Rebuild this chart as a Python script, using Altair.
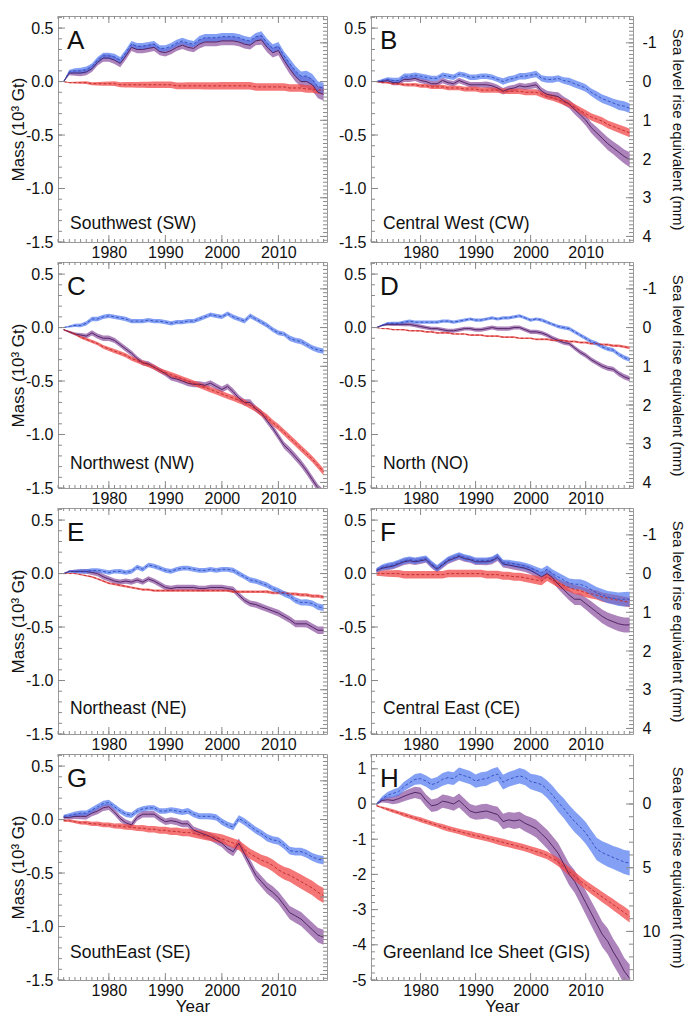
import altair as alt
import pandas as pd

FONT = "Liberation Sans"
YEARS = list(range(1972, 2019))

# ---- Southwest (A) ----
SW_SMB = [0.00,0.09,0.10,0.10,0.11,0.14,0.20,0.24,0.24,0.23,
          0.20,0.27,0.35,0.33,0.33,0.34,0.35,0.31,0.31,0.33,
          0.36,0.38,0.36,0.35,0.39,0.41,0.41,0.41,0.42,0.42,
          0.42,0.41,0.39,0.38,0.42,0.43,0.36,0.31,0.33,0.24,
          0.17,0.10,0.05,0.05,0.02,-0.05,-0.06]
SW_MB = [0.00,0.08,0.08,0.08,0.09,0.12,0.18,0.22,0.22,0.20,
         0.17,0.24,0.32,0.30,0.30,0.31,0.32,0.28,0.27,0.29,
         0.32,0.34,0.32,0.31,0.35,0.37,0.37,0.37,0.38,0.38,
         0.38,0.37,0.35,0.34,0.38,0.39,0.32,0.27,0.29,0.20,
         0.12,0.05,0.00,0.00,-0.03,-0.10,-0.12]
SW_D = [0.00,-0.01,-0.01,-0.01,-0.01,-0.02,-0.02,-0.02,-0.02,-0.02,
        -0.03,-0.03,-0.03,-0.03,-0.03,-0.03,-0.03,-0.03,-0.03,-0.03,
        -0.04,-0.04,-0.04,-0.04,-0.04,-0.04,-0.04,-0.04,-0.04,-0.04,
        -0.04,-0.04,-0.04,-0.04,-0.05,-0.05,-0.05,-0.05,-0.05,-0.05,
        -0.06,-0.06,-0.06,-0.07,-0.07,-0.08,-0.08]
SW_SMB_E = [0.005,0.02,0.025,0.03,0.03,0.03,0.03,0.03,0.03,0.03,
            0.03,0.03,0.03,0.03,0.03,0.03,0.03,0.03,0.03,0.03,
            0.03,0.03,0.03,0.03,0.035,0.035,0.035,0.035,0.035,0.035,
            0.035,0.035,0.035,0.035,0.035,0.04,0.04,0.04,0.04,0.04,
            0.045,0.045,0.045,0.05,0.05,0.05,0.05]
SW_MB_E = [0.005,0.02,0.025,0.03,0.03,0.03,0.03,0.035,0.035,0.035,
           0.035,0.035,0.035,0.035,0.035,0.035,0.035,0.035,0.035,0.035,
           0.035,0.035,0.035,0.035,0.04,0.04,0.04,0.04,0.04,0.04,
           0.04,0.04,0.04,0.04,0.04,0.045,0.045,0.045,0.045,0.045,
           0.05,0.05,0.05,0.055,0.055,0.055,0.06]
SW_D_E = [0.003,0.005,0.008,0.01,0.012,0.014,0.016,0.018,0.02,0.022,
          0.024,0.025,0.026,0.027,0.028,0.029,0.03,0.03,0.031,0.031,
          0.032,0.032,0.033,0.033,0.033,0.034,0.034,0.034,0.035,0.035,
          0.035,0.035,0.035,0.035,0.035,0.035,0.035,0.035,0.035,0.035,
          0.035,0.035,0.035,0.035,0.035,0.035,0.035]

# ---- Central West (B) ----
CW_SMB = [0.00,0.01,0.02,0.01,0.01,0.05,0.05,0.06,0.05,0.04,
          0.03,0.03,0.06,0.05,0.04,0.07,0.06,0.04,0.04,0.05,
          0.05,0.04,0.02,0.00,0.02,0.03,0.05,0.05,0.06,0.07,
          0.03,0.02,0.02,0.03,0.01,0.00,-0.02,-0.04,-0.06,-0.10,
          -0.13,-0.16,-0.18,-0.20,-0.22,-0.23,-0.25]
CW_D = [0.00,-0.01,-0.01,-0.02,-0.02,-0.03,-0.03,-0.03,-0.04,-0.04,
        -0.05,-0.05,-0.05,-0.06,-0.06,-0.06,-0.07,-0.07,-0.07,-0.08,
        -0.08,-0.08,-0.08,-0.09,-0.09,-0.09,-0.09,-0.10,-0.10,-0.10,
        -0.12,-0.14,-0.15,-0.17,-0.19,-0.21,-0.24,-0.27,-0.30,-0.33,
        -0.35,-0.37,-0.40,-0.42,-0.44,-0.46,-0.48]
CW_MB = [0.00,0.00,0.01,-0.01,-0.01,0.02,0.02,0.03,0.01,0.00,
         -0.02,-0.02,0.01,-0.01,-0.02,0.01,-0.01,-0.03,-0.03,-0.03,
         -0.03,-0.04,-0.06,-0.09,-0.07,-0.06,-0.04,-0.05,-0.04,-0.03,
         -0.09,-0.12,-0.13,-0.14,-0.18,-0.21,-0.26,-0.31,-0.36,-0.43,
         -0.48,-0.53,-0.58,-0.62,-0.66,-0.70,-0.73]
CW_SMB_E = [0.005,0.015,0.02,0.025,0.025,0.025,0.025,0.025,0.025,0.025,
            0.025,0.025,0.025,0.025,0.025,0.025,0.025,0.025,0.025,0.025,
            0.025,0.025,0.025,0.03,0.03,0.03,0.03,0.03,0.03,0.03,
            0.03,0.03,0.03,0.03,0.03,0.035,0.035,0.035,0.035,0.035,
            0.04,0.04,0.04,0.04,0.045,0.045,0.045]
CW_D_E = [0.002,0.005,0.008,0.01,0.012,0.014,0.015,0.016,0.017,0.018,
          0.019,0.02,0.02,0.021,0.021,0.022,0.022,0.023,0.023,0.024,
          0.024,0.025,0.025,0.025,0.026,0.026,0.026,0.027,0.027,0.027,
          0.028,0.028,0.029,0.029,0.03,0.03,0.031,0.032,0.033,0.034,
          0.035,0.036,0.037,0.038,0.039,0.04,0.04]
CW_MB_E = [0.005,0.015,0.02,0.025,0.025,0.025,0.025,0.025,0.025,0.025,
           0.025,0.025,0.025,0.025,0.025,0.025,0.025,0.025,0.025,0.025,
           0.03,0.03,0.03,0.03,0.03,0.03,0.03,0.03,0.03,0.03,
           0.035,0.035,0.035,0.04,0.04,0.04,0.045,0.045,0.05,0.05,
           0.055,0.055,0.06,0.06,0.065,0.065,0.07]

# ---- Northwest (C) ----
NW_SMB = [0.00,0.01,0.02,0.02,0.04,0.08,0.08,0.10,0.11,0.10,
          0.09,0.08,0.06,0.06,0.06,0.07,0.06,0.06,0.05,0.04,
          0.05,0.05,0.06,0.06,0.08,0.10,0.12,0.11,0.10,0.13,
          0.10,0.08,0.06,0.11,0.08,0.05,0.02,-0.02,-0.05,-0.06,
          -0.10,-0.12,-0.13,-0.16,-0.19,-0.21,-0.22]
NW_D = [-0.02,-0.04,-0.06,-0.09,-0.11,-0.13,-0.15,-0.18,-0.20,-0.22,
        -0.24,-0.26,-0.29,-0.31,-0.33,-0.35,-0.37,-0.40,-0.42,-0.44,
        -0.46,-0.48,-0.50,-0.52,-0.54,-0.56,-0.58,-0.60,-0.62,-0.64,
        -0.66,-0.68,-0.70,-0.73,-0.76,-0.80,-0.84,-0.89,-0.93,-0.98,
        -1.03,-1.08,-1.13,-1.18,-1.23,-1.29,-1.35]
NW_MB = [-0.02,-0.04,-0.06,-0.07,-0.08,-0.05,-0.08,-0.10,-0.10,-0.12,
         -0.16,-0.20,-0.24,-0.29,-0.33,-0.34,-0.37,-0.40,-0.43,-0.47,
         -0.48,-0.50,-0.52,-0.53,-0.53,-0.54,-0.52,-0.55,-0.58,-0.55,
         -0.60,-0.66,-0.70,-0.70,-0.76,-0.80,-0.87,-0.94,-1.02,-1.10,
         -1.15,-1.21,-1.27,-1.34,-1.42,-1.50,-1.55]
NW_SMB_E = [0.005,0.01,0.015,0.018,0.02,0.02,0.02,0.02,0.02,0.02,
            0.02,0.02,0.02,0.02,0.02,0.02,0.02,0.02,0.02,0.02,
            0.02,0.02,0.02,0.02,0.02,0.02,0.02,0.02,0.02,0.02,
            0.022,0.022,0.022,0.022,0.022,0.022,0.022,0.022,0.022,0.022,
            0.025,0.025,0.025,0.025,0.025,0.025,0.025]
NW_D_E = [0.005,0.008,0.01,0.012,0.014,0.015,0.016,0.017,0.018,0.019,
          0.02,0.02,0.021,0.021,0.022,0.022,0.023,0.023,0.024,0.024,
          0.025,0.025,0.025,0.025,0.026,0.026,0.026,0.026,0.027,0.027,
          0.027,0.027,0.028,0.028,0.028,0.028,0.029,0.029,0.029,0.03,
          0.03,0.03,0.03,0.03,0.03,0.03,0.03]
NW_MB_E = [0.005,0.01,0.015,0.02,0.022,0.024,0.025,0.025,0.025,0.025,
           0.025,0.025,0.025,0.025,0.025,0.025,0.025,0.025,0.025,0.025,
           0.028,0.028,0.028,0.028,0.028,0.028,0.028,0.028,0.028,0.028,
           0.03,0.03,0.03,0.03,0.03,0.03,0.032,0.032,0.032,0.032,
           0.034,0.034,0.034,0.035,0.035,0.035,0.035]

# ---- North (D) ----
NO_SMB = [0.00,0.02,0.04,0.04,0.04,0.05,0.06,0.05,0.05,0.05,
          0.05,0.05,0.06,0.06,0.05,0.06,0.07,0.08,0.07,0.07,
          0.08,0.09,0.08,0.09,0.09,0.10,0.11,0.09,0.07,0.08,
          0.07,0.05,0.03,0.01,0.00,-0.01,-0.04,-0.07,-0.10,-0.13,
          -0.15,-0.18,-0.20,-0.21,-0.25,-0.28,-0.30]
NO_D = [0.00,-0.01,-0.01,-0.02,-0.02,-0.02,-0.03,-0.03,-0.03,-0.04,
        -0.04,-0.05,-0.05,-0.05,-0.06,-0.06,-0.06,-0.07,-0.07,-0.07,
        -0.08,-0.08,-0.08,-0.09,-0.09,-0.09,-0.10,-0.10,-0.10,-0.11,
        -0.11,-0.11,-0.12,-0.12,-0.12,-0.13,-0.13,-0.14,-0.14,-0.15,
        -0.15,-0.16,-0.16,-0.17,-0.17,-0.18,-0.19]
NO_MB = [0.00,0.02,0.03,0.03,0.03,0.03,0.03,0.02,0.01,0.00,
         -0.01,-0.01,-0.02,-0.03,-0.03,-0.02,-0.01,-0.01,-0.02,-0.02,
         -0.01,0.00,-0.01,-0.01,-0.01,0.00,0.00,-0.02,-0.04,-0.04,
         -0.05,-0.07,-0.10,-0.12,-0.14,-0.15,-0.19,-0.23,-0.26,-0.30,
         -0.33,-0.36,-0.38,-0.39,-0.43,-0.46,-0.48]
NO_SMB_E = [0.004,0.008,0.012,0.015,0.015,0.015,0.015,0.015,0.015,0.015,
            0.015,0.015,0.015,0.015,0.015,0.015,0.015,0.015,0.015,0.015,
            0.015,0.015,0.015,0.015,0.015,0.015,0.015,0.015,0.015,0.015,
            0.016,0.016,0.016,0.016,0.017,0.017,0.017,0.018,0.018,0.018,
            0.019,0.019,0.02,0.02,0.02,0.02,0.02]
NO_D_E = [0.002,0.004,0.005,0.006,0.006,0.007,0.007,0.007,0.008,0.008,
          0.008,0.008,0.008,0.008,0.008,0.008,0.008,0.008,0.008,0.008,
          0.008,0.008,0.008,0.008,0.008,0.008,0.008,0.008,0.008,0.008,
          0.009,0.009,0.009,0.009,0.009,0.01,0.01,0.01,0.01,0.01,
          0.011,0.011,0.011,0.012,0.012,0.012,0.012]
NO_MB_E = [0.004,0.008,0.012,0.015,0.016,0.017,0.018,0.018,0.018,0.018,
           0.018,0.018,0.018,0.018,0.018,0.018,0.018,0.018,0.018,0.018,
           0.019,0.019,0.019,0.019,0.019,0.019,0.019,0.019,0.019,0.019,
           0.02,0.02,0.02,0.02,0.021,0.021,0.021,0.022,0.022,0.022,
           0.023,0.023,0.024,0.024,0.025,0.025,0.025]

# ---- Northeast (E) ----
NE_SMB = [0.00,0.02,0.02,0.02,0.02,0.03,0.03,0.02,0.01,0.02,
          0.02,0.01,0.02,0.06,0.04,0.08,0.07,0.05,0.03,0.02,
          0.04,0.05,0.05,0.04,0.03,0.03,0.04,0.03,0.04,0.04,
          0.03,0.00,-0.03,-0.06,-0.07,-0.09,-0.11,-0.14,-0.16,-0.19,
          -0.21,-0.25,-0.27,-0.27,-0.28,-0.31,-0.32]
NE_D = [0.00,0.00,0.00,-0.01,-0.02,-0.03,-0.05,-0.07,-0.09,-0.10,
        -0.11,-0.12,-0.13,-0.14,-0.15,-0.15,-0.16,-0.16,-0.16,-0.16,
        -0.16,-0.16,-0.16,-0.16,-0.16,-0.16,-0.16,-0.16,-0.16,-0.16,
        -0.17,-0.17,-0.17,-0.17,-0.17,-0.17,-0.17,-0.18,-0.18,-0.18,
        -0.19,-0.19,-0.20,-0.20,-0.21,-0.21,-0.22]
NE_MB = [0.00,0.02,0.02,0.02,0.02,0.01,0.00,-0.03,-0.05,-0.07,
         -0.08,-0.07,-0.08,-0.06,-0.08,-0.05,-0.07,-0.10,-0.13,-0.14,
         -0.13,-0.13,-0.13,-0.13,-0.14,-0.14,-0.13,-0.13,-0.13,-0.14,
         -0.15,-0.20,-0.25,-0.28,-0.29,-0.31,-0.33,-0.35,-0.37,-0.40,
         -0.43,-0.47,-0.47,-0.47,-0.50,-0.53,-0.53]
NE_SMB_E = [0.004,0.01,0.015,0.02,0.02,0.02,0.02,0.02,0.02,0.02,
            0.022,0.022,0.022,0.022,0.022,0.022,0.022,0.022,0.022,0.022,
            0.022,0.022,0.022,0.022,0.022,0.022,0.022,0.022,0.022,0.022,
            0.024,0.024,0.024,0.025,0.025,0.025,0.026,0.026,0.026,0.027,
            0.027,0.028,0.028,0.029,0.029,0.03,0.03]
NE_D_E = [0.002,0.004,0.005,0.006,0.007,0.008,0.008,0.009,0.009,0.01,
          0.01,0.01,0.01,0.01,0.01,0.01,0.01,0.01,0.01,0.01,
          0.01,0.01,0.01,0.01,0.01,0.01,0.01,0.01,0.01,0.01,
          0.011,0.011,0.011,0.012,0.012,0.012,0.013,0.013,0.013,0.014,
          0.014,0.014,0.015,0.015,0.015,0.015,0.015]
NE_MB_E = [0.004,0.01,0.015,0.02,0.022,0.024,0.025,0.025,0.025,0.025,
           0.025,0.025,0.025,0.025,0.025,0.025,0.025,0.025,0.025,0.025,
           0.026,0.026,0.026,0.026,0.026,0.026,0.026,0.026,0.026,0.026,
           0.028,0.028,0.028,0.029,0.029,0.03,0.03,0.031,0.031,0.032,
           0.032,0.033,0.033,0.034,0.034,0.035,0.035]

# ---- Central East (F) ----
CE_SMB = [0.03,0.06,0.07,0.08,0.10,0.12,0.13,0.12,0.13,0.14,
          0.09,0.05,0.09,0.13,0.15,0.17,0.15,0.14,0.12,0.12,
          0.12,0.13,0.16,0.10,0.10,0.09,0.08,0.07,0.05,0.03,
          0.01,0.04,0.00,-0.03,-0.06,-0.09,-0.10,-0.10,-0.12,-0.15,
          -0.18,-0.20,-0.22,-0.23,-0.24,-0.24,-0.24]
CE_D = [0.00,0.00,0.00,0.00,0.00,-0.01,-0.01,-0.01,-0.01,-0.01,
        -0.01,-0.01,-0.01,0.00,0.00,0.00,0.00,0.00,0.00,0.00,
        -0.01,-0.01,-0.01,-0.02,-0.02,-0.03,-0.03,-0.04,-0.05,-0.06,
        -0.07,-0.03,-0.06,-0.09,-0.11,-0.13,-0.15,-0.16,-0.18,-0.19,
        -0.20,-0.22,-0.23,-0.24,-0.25,-0.26,-0.27]
CE_MB = [0.03,0.05,0.06,0.07,0.09,0.11,0.12,0.11,0.12,0.13,
         0.08,0.04,0.08,0.12,0.14,0.16,0.14,0.13,0.11,0.11,
         0.11,0.12,0.15,0.09,0.08,0.07,0.06,0.05,0.03,0.00,
         -0.03,0.00,-0.04,-0.10,-0.15,-0.20,-0.24,-0.24,-0.28,-0.32,
         -0.36,-0.40,-0.43,-0.45,-0.47,-0.48,-0.48]
CE_SMB_E = [0.02,0.025,0.03,0.03,0.03,0.03,0.03,0.03,0.03,0.03,
            0.03,0.03,0.03,0.03,0.03,0.03,0.03,0.03,0.03,0.03,
            0.03,0.03,0.03,0.03,0.03,0.03,0.032,0.032,0.034,0.034,
            0.036,0.036,0.038,0.04,0.042,0.044,0.046,0.048,0.05,0.052,
            0.054,0.056,0.058,0.06,0.064,0.068,0.07]
CE_D_E = [0.02,0.025,0.03,0.032,0.034,0.035,0.035,0.035,0.035,0.035,
          0.035,0.035,0.035,0.035,0.035,0.035,0.035,0.035,0.035,0.035,
          0.036,0.036,0.036,0.037,0.037,0.037,0.038,0.038,0.038,0.039,
          0.039,0.04,0.04,0.04,0.041,0.041,0.042,0.042,0.042,0.043,
          0.043,0.044,0.044,0.044,0.045,0.045,0.045]
CE_MB_E = [0.02,0.025,0.03,0.03,0.03,0.03,0.03,0.03,0.03,0.03,
           0.03,0.03,0.03,0.03,0.03,0.03,0.03,0.03,0.03,0.03,
           0.032,0.032,0.032,0.033,0.033,0.034,0.034,0.035,0.036,0.037,
           0.038,0.04,0.042,0.045,0.048,0.05,0.053,0.055,0.057,0.06,
           0.062,0.064,0.066,0.068,0.07,0.07,0.07]

# ---- South East (G) ----
SE_SMB = [0.03,0.04,0.05,0.06,0.06,0.09,0.12,0.15,0.16,0.12,
          0.08,0.05,0.04,0.08,0.10,0.11,0.11,0.08,0.08,0.09,
          0.08,0.07,0.08,0.05,0.03,0.03,0.03,0.02,-0.02,-0.05,
          -0.07,0.01,-0.02,-0.06,-0.10,-0.13,-0.17,-0.19,-0.20,-0.24,
          -0.29,-0.30,-0.30,-0.32,-0.35,-0.37,-0.38]
SE_D = [-0.01,-0.01,-0.02,-0.03,-0.03,-0.04,-0.04,-0.05,-0.05,-0.06,
        -0.06,-0.07,-0.07,-0.08,-0.08,-0.09,-0.09,-0.10,-0.10,-0.11,
        -0.11,-0.12,-0.12,-0.13,-0.14,-0.15,-0.16,-0.17,-0.18,-0.20,
        -0.22,-0.24,-0.28,-0.32,-0.35,-0.38,-0.40,-0.43,-0.47,-0.50,
        -0.52,-0.55,-0.58,-0.61,-0.64,-0.68,-0.71]
SE_MB = [0.02,0.02,0.03,0.03,0.03,0.06,0.08,0.11,0.12,0.07,
         0.01,-0.03,-0.05,0.02,0.05,0.05,0.05,0.01,-0.02,-0.01,
         -0.02,-0.04,-0.04,-0.10,-0.12,-0.14,-0.16,-0.19,-0.22,-0.27,
         -0.30,-0.22,-0.32,-0.42,-0.52,-0.58,-0.64,-0.68,-0.73,-0.80,
         -0.87,-0.90,-0.93,-0.98,-1.03,-1.08,-1.10]
SE_SMB_E = [0.015,0.02,0.025,0.025,0.025,0.025,0.025,0.025,0.025,0.025,
            0.025,0.025,0.025,0.025,0.025,0.025,0.025,0.025,0.025,0.025,
            0.027,0.027,0.027,0.028,0.028,0.028,0.029,0.029,0.03,0.03,
            0.03,0.031,0.032,0.032,0.033,0.033,0.034,0.034,0.035,0.035,
            0.036,0.036,0.037,0.038,0.038,0.039,0.04]
SE_D_E = [0.01,0.012,0.014,0.016,0.018,0.02,0.021,0.022,0.023,0.024,
          0.025,0.026,0.027,0.028,0.029,0.03,0.031,0.032,0.033,0.034,
          0.035,0.036,0.037,0.038,0.039,0.04,0.041,0.042,0.043,0.044,
          0.045,0.046,0.047,0.048,0.05,0.052,0.054,0.056,0.058,0.06,
          0.062,0.064,0.066,0.067,0.068,0.069,0.07]
SE_MB_E = [0.015,0.02,0.025,0.028,0.03,0.03,0.03,0.03,0.03,0.03,
           0.03,0.03,0.03,0.03,0.03,0.03,0.03,0.03,0.031,0.031,
           0.032,0.032,0.033,0.034,0.035,0.036,0.037,0.038,0.039,0.04,
           0.042,0.044,0.046,0.048,0.05,0.052,0.054,0.056,0.058,0.06,
           0.062,0.064,0.065,0.066,0.068,0.069,0.07]

# ---- Greenland Ice Sheet (H) ----
GIS_SMB = [0.00,0.15,0.25,0.30,0.35,0.50,0.60,0.70,0.72,0.65,
           0.55,0.60,0.70,0.75,0.72,0.85,0.80,0.75,0.65,0.70,
           0.72,0.80,0.85,0.62,0.70,0.75,0.80,0.75,0.64,0.60,
           0.55,0.42,0.25,0.05,-0.12,-0.32,-0.50,-0.65,-0.82,-1.05,
           -1.28,-1.38,-1.45,-1.52,-1.58,-1.65,-1.68]
GIS_D = [-0.05,-0.10,-0.15,-0.20,-0.25,-0.30,-0.35,-0.40,-0.45,-0.50,
         -0.55,-0.60,-0.65,-0.70,-0.74,-0.78,-0.82,-0.86,-0.90,-0.93,
         -0.97,-1.01,-1.05,-1.09,-1.13,-1.17,-1.21,-1.25,-1.30,-1.35,
         -1.40,-1.46,-1.55,-1.65,-1.78,-1.92,-2.05,-2.18,-2.30,-2.42,
         -2.53,-2.64,-2.75,-2.86,-2.97,-3.08,-3.20]
GIS_MB = [0.00,0.10,0.12,0.10,0.15,0.22,0.28,0.33,0.30,0.10,
          -0.05,-0.02,0.08,0.05,0.00,0.10,-0.05,-0.20,-0.25,-0.22,
          -0.20,-0.25,-0.30,-0.50,-0.45,-0.48,-0.45,-0.55,-0.62,-0.70,
          -0.85,-1.00,-1.20,-1.40,-1.70,-2.00,-2.20,-2.50,-2.80,-3.10,
          -3.40,-3.70,-3.90,-4.20,-4.45,-4.75,-4.95]
GIS_SMB_E = [0.02,0.06,0.09,0.11,0.12,0.13,0.14,0.15,0.16,0.16,
             0.17,0.17,0.18,0.18,0.18,0.19,0.19,0.19,0.19,0.20,
             0.20,0.20,0.20,0.21,0.21,0.21,0.22,0.22,0.22,0.23,
             0.24,0.25,0.26,0.27,0.28,0.29,0.30,0.30,0.31,0.31,
             0.32,0.32,0.33,0.33,0.34,0.34,0.35]
GIS_D_E = [0.02,0.03,0.04,0.05,0.05,0.06,0.06,0.06,0.07,0.07,
           0.07,0.07,0.08,0.08,0.08,0.08,0.08,0.09,0.09,0.09,
           0.09,0.09,0.10,0.10,0.10,0.10,0.10,0.10,0.10,0.11,
           0.11,0.11,0.11,0.12,0.12,0.12,0.13,0.13,0.13,0.14,
           0.14,0.15,0.15,0.16,0.16,0.17,0.17]
GIS_MB_E = [0.02,0.06,0.09,0.11,0.13,0.14,0.15,0.16,0.17,0.17,
            0.18,0.18,0.19,0.19,0.19,0.20,0.20,0.20,0.20,0.21,
            0.21,0.21,0.22,0.22,0.22,0.23,0.23,0.23,0.24,0.25,
            0.26,0.27,0.28,0.29,0.30,0.31,0.32,0.33,0.34,0.35,
            0.36,0.36,0.37,0.37,0.38,0.38,0.39]

LETTERS = ["A", "B", "C", "D", "E", "F", "G", "H"]
REGION_NAMES = ["Southwest (SW)", "Central West (CW)", "Northwest (NW)", "North (NO)",
                "Northeast (NE)", "Central East (CE)", "SouthEast (SE)",
                "Greenland Ice Sheet (GIS)"]

X_LABELS = [1980, 1990, 2000, 2010]
Y_LABELS_REG = [0.5, 0.0, -0.5, -1.0, -1.5]
Y_LABELS_GIS = [1, 0, -1, -2, -3, -4, -5]
SLE_LABELS_REG = [-1, 0, 1, 2, 3, 4]
SLE_LABELS_GIS = [0, 5, 10]

GT_PER_MM = 0.362          # 10^3 Gt of ice per mm of sea level
XDOM = [1971.0, 2018.6]
YDOM_REG = [-1.5, 0.613]
YDOM_GIS = [-5.0, 1.42]

PANELS = [
    (SW_SMB, SW_SMB_E, SW_D, SW_D_E, SW_MB, SW_MB_E),
    (CW_SMB, CW_SMB_E, CW_D, CW_D_E, CW_MB, CW_MB_E),
    (NW_SMB, NW_SMB_E, NW_D, NW_D_E, NW_MB, NW_MB_E),
    (NO_SMB, NO_SMB_E, NO_D, NO_D_E, NO_MB, NO_MB_E),
    (NE_SMB, NE_SMB_E, NE_D, NE_D_E, NE_MB, NE_MB_E),
    (CE_SMB, CE_SMB_E, CE_D, CE_D_E, CE_MB, CE_MB_E),
    (SE_SMB, SE_SMB_E, SE_D, SE_D_E, SE_MB, SE_MB_E),
    (GIS_SMB, GIS_SMB_E, GIS_D, GIS_D_E, GIS_MB, GIS_MB_E),
]
NAME_BASELINE = [13, 13, 19, 19, 20, 20, 22, 22]

BAND = {"smb": ("#4f78f0", 0.7), "d": ("#f04848", 0.75), "mb": ("#8a4fa0", 0.7)}
LINE = {"smb": ("#2f4cc0", [3, 2]), "d": ("#c02828", [3, 2]), "mb": ("#4a1c5c", None)}
TICK = "#8a8a8a"
MINUS_FIX = "replace(datum.label, '\u2212', '-')"
PH = 226


def band_df(vals, errs):
    return pd.DataFrame({
        "year": YEARS,
        "val": vals,
        "lo": [v - e for v, e in zip(vals, errs)],
        "hi": [v + e for v, e in zip(vals, errs)],
    })


def build_panel(i):
    row, col = divmod(i, 2)
    gis = i == 7
    W = 269 if col == 0 else 262
    H = PH
    ydom = YDOM_GIS if gis else YDOM_REG
    xs = alt.Scale(domain=XDOM, nice=False, zero=False)
    ys = alt.Scale(domain=ydom, nice=False, zero=False)

    xaxis_kw = dict(values=X_LABELS, format="d", labelFontSize=16, labelPadding=2,
                    ticks=False, domain=False, grid=False)
    if row == 3:
        xaxis_kw.update(title="Year", titleFontSize=17, titlePadding=0,
                        titleFontWeight="normal")
    else:
        xaxis_kw.update(title=None)
    yaxis_kw = dict(values=Y_LABELS_GIS if gis else Y_LABELS_REG,
                    format="d" if gis else ".1f", labelExpr=MINUS_FIX,
                    labelFontSize=16, labelPadding=5, ticks=False, domain=False,
                    grid=False)
    if col == 0:
        yaxis_kw.update(title="Mass (10\u00b3 Gt)", titleFontSize=17, titleX=-31,
                        titleY=H / 2, titleFontWeight="normal")
    else:
        yaxis_kw.update(title=None)

    # the same axis definition is given to every layer so the shared axes merge cleanly
    def X(field):
        return alt.X(field, scale=xs, axis=alt.Axis(**xaxis_kw))

    def Y(field):
        return alt.Y(field, scale=ys, axis=alt.Axis(**yaxis_kw))

    smb, smb_e, d, d_e, mb, mb_e = PANELS[i]
    dfs = {"smb": band_df(smb, smb_e), "d": band_df(d, d_e), "mb": band_df(mb, mb_e)}

    layers = []
    for key in ["mb", "d", "smb"]:
        color, op = BAND[key]
        layers.append(alt.Chart(dfs[key]).mark_area(color=color, opacity=op, clip=True)
                      .encode(x=X("year:Q"), y=Y("lo:Q"), y2="hi:Q"))
    for key in ["mb", "d", "smb"]:
        color, dash = LINE[key]
        kw = dict(color=color, strokeWidth=0.9, clip=True)
        if dash:
            kw["strokeDash"] = dash
        layers.append(alt.Chart(dfs[key]).mark_line(**kw).encode(
            x=X("year:Q"), y=Y("val:Q")))

    # inward tick marks on all four sides
    x_minor = [y for y in range(1971, 2019)]

    def xr(vals, y0, y1):
        return alt.Chart(pd.DataFrame({"t": vals})).mark_rule(color=TICK, strokeWidth=1).encode(
            x=X("t:Q"), y=alt.value(y0), y2=alt.value(y1))

    def yr(vals, x0, x1):
        return alt.Chart(pd.DataFrame({"t": vals})).mark_rule(color=TICK, strokeWidth=1).encode(
            y=Y("t:Q"), x=alt.value(x0), x2=alt.value(x1))

    layers += [xr(x_minor, H, H - 3), xr(X_LABELS, H, H - 7),
               xr(x_minor, 0, 3), xr(X_LABELS, 0, 7)]
    if gis:
        y_minor = [round(-5 + 0.2 * k, 2) for k in range(33)]
        y_major = Y_LABELS_GIS
        sle_minor = list(range(-3, 14))
        sle_major = SLE_LABELS_GIS
    else:
        y_minor = [round(-1.5 + 0.1 * k, 2) for k in range(22)]
        y_major = Y_LABELS_REG
        sle_minor = [round(-1.6 + 0.1 * k, 2) for k in range(58)]
        sle_major = SLE_LABELS_REG
    lo_d, hi_d = ydom

    def to_mass(mm):
        return -mm * GT_PER_MM

    sle_minor_m = [to_mass(v) for v in sle_minor if lo_d <= to_mass(v) <= hi_d]
    sle_major_m = [to_mass(v) for v in sle_major if lo_d <= to_mass(v) <= hi_d]
    layers += [yr(y_minor, 0, 4), yr(y_major, 0, 7),
               yr(sle_minor_m, W - 4, W), yr(sle_major_m, W - 7, W)]

    layers.append(alt.Chart(pd.DataFrame({"t": [LETTERS[i]]})).mark_text(
        align="left", baseline="alphabetic", fontSize=26, font=FONT, color="#111").encode(
        text="t:N", x=alt.value(9), y=alt.value(33)))
    layers.append(alt.Chart(pd.DataFrame({"t": [REGION_NAMES[i]]})).mark_text(
        align="left", baseline="alphabetic", fontSize=17.5, font=FONT, color="#111").encode(
        text="t:N", x=alt.value(12), y=alt.value(H - NAME_BASELINE[i])))

    main = alt.layer(*layers)
    if col == 1:
        sle_dom = [lo_d / -GT_PER_MM, hi_d / -GT_PER_MM]
        sle = alt.Chart(pd.DataFrame({"mm": sle_major})).mark_rule(opacity=0).encode(
            y=alt.Y("mm:Q", scale=alt.Scale(domain=sle_dom, nice=False, zero=False),
                    axis=alt.Axis(orient="right", values=sle_major, format="d",
                                  labelExpr=MINUS_FIX, labelFontSize=16, labelPadding=9,
                                  ticks=False, domain=False, grid=False,
                                  title="Sea level rise equivalent (mm)", titleFontSize=15,
                                  titleAngle=90, titleX=36, titleY=H / 2,
                                  titleFontWeight="normal")))
        panel = alt.layer(main, sle).resolve_scale(y="independent")
    else:
        panel = main
    return panel.properties(width=W, height=H)


panels = [build_panel(i) for i in range(8)]

chart = alt.concat(*panels, columns=2, spacing={"row": 0, "column": 9}).properties(
    padding={"left": 0, "top": 7, "right": 2, "bottom": 0}
).configure_view(stroke="#9a9a9a", strokeWidth=1).configure_axis(
    labelFont=FONT, titleFont=FONT, labelColor="#111", titleColor="#111"
)

chart.save("out.html", embed_options={"renderer": "svg", "actions": False})
